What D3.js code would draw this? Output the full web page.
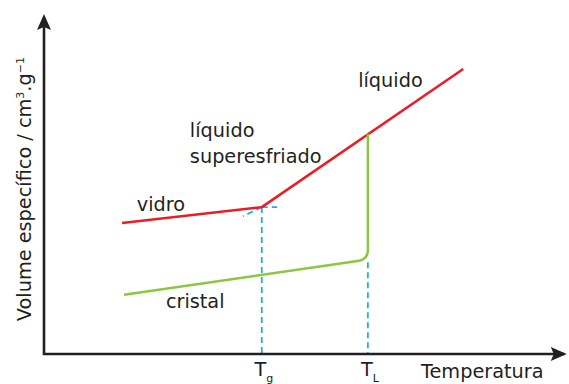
<!DOCTYPE html>
<html>
<head>
<meta charset="utf-8">
<script src="https://cdn.jsdelivr.net/npm/d3@7"></script>
<style>
  html, body { margin: 0; padding: 0; background: #fff; }
  text { font-family: "DejaVu Sans", Verdana, sans-serif; fill: #231f20; }
</style>
</head>
<body>
<svg id="chart" width="569" height="384"></svg>
<script>
// Specific volume vs temperature (arbitrary units)
const Tg = 4.27;
const TL = 6.35;
const glassLine = [{T: 1.53, V: 3.85}, {T: Tg, V: 4.32}];
const liquidLine = [{T: Tg, V: 4.32}, {T: 8.22, V: 8.38}];
const crystalLine = [{T: 1.57, V: 1.74}, {T: TL, V: 2.78}, {T: TL, V: 6.47}];
const extrapolation = [{T: Tg, V: 4.32}, {T: 3.9, V: 4.05}];
const tgLevel = [{T: Tg, V: 4.32}, {T: 4.57, V: 4.32}];
const xTickLabels = [{T: Tg, base: "T", sub: "g"}, {T: TL, base: "T", sub: "L"}];
const phaseLabels = [
  {T: 6.16, V: 7.85, lines: ["líquido"]},
  {T: 2.86, V: 6.38, lines: ["líquido", "superesfriado"]},
  {T: 1.82, V: 4.2, lines: ["vidro"]},
  {T: 2.39, V: 1.35, lines: ["cristal"]}
];

const svg = d3.select("#chart");
const x = d3.scaleLinear().domain([0, 10]).range([44, 554]);
const y = d3.scaleLinear().domain([0, 10]).range([354, 14]);

const ink = "#231f20";
const fs = 19.3;
const line = d3.line().x(d => x(d.T)).y(d => y(d.V));

// guide lines at Tg and TL
function dashed(pts) {
  svg.append("path").attr("d", line(pts)).attr("fill", "none")
    .attr("stroke", "#29abe2").attr("stroke-width", 1.8)
    .attr("stroke-dasharray", "6,4");
}
dashed([{T: Tg, V: 4.32}, {T: Tg, V: 0}]);
dashed([{T: TL, V: 2.7}, {T: TL, V: 0}]);
dashed(tgLevel);
dashed(extrapolation);

// axes with arrowheads
svg.append("path")
  .attr("d", `M${x(0)},${y(9.85)} L${x(0)},${y(0)} L${x(10.2)},${y(0)}`)
  .attr("fill", "none").attr("stroke", ink).attr("stroke-width", 2.6);
svg.append("path")
  .attr("d", `M${x(0)},${y(10)} l-7,16 l7,-3 l7,3 z`)
  .attr("fill", ink);
svg.append("path")
  .attr("d", `M${x(10.25)},${y(0)} l-16,-7 l3,7 l-3,7 z`)
  .attr("fill", ink);

// glass and liquid branches
svg.append("path").attr("d", line(glassLine)).attr("fill", "none")
  .attr("stroke", "#ed1c24").attr("stroke-width", 2.5);
svg.append("path").attr("d", line(liquidLine)).attr("fill", "none")
  .attr("stroke", "#ed1c24").attr("stroke-width", 2.5);

// crystal branch with a rounded corner at TL
const cp = d3.path();
cp.moveTo(x(crystalLine[0].T), y(crystalLine[0].V));
cp.arcTo(x(crystalLine[1].T), y(crystalLine[1].V), x(crystalLine[2].T), y(crystalLine[2].V), 10);
cp.lineTo(x(crystalLine[2].T), y(crystalLine[2].V));
svg.append("path").attr("d", cp.toString()).attr("fill", "none")
  .attr("stroke", "#8dc63f").attr("stroke-width", 2.5);

// phase labels
phaseLabels.forEach(p => {
  const t = svg.append("text").attr("x", x(p.T)).attr("y", y(p.V))
    .attr("font-size", fs);
  p.lines.forEach((s, i) => {
    t.append("tspan").attr("x", x(p.T)).attr("dy", i === 0 ? 0 : 26).text(s);
  });
});

// x tick labels
xTickLabels.forEach(d => {
  const t = svg.append("text").attr("x", x(d.T) + 2).attr("y", 376)
    .attr("text-anchor", "middle").attr("font-size", fs);
  t.append("tspan").text(d.base);
  t.append("tspan").attr("font-size", 11).attr("dy", 6).text(d.sub);
});

// axis titles
svg.append("text").attr("x", 421).attr("y", 378).attr("font-size", fs)
  .text("Temperatura");

const yl = svg.append("text")
  .attr("transform", `translate(31,${y(4.85)}) rotate(-90)`)
  .attr("text-anchor", "middle").attr("font-size", fs);
yl.append("tspan").text("Volume específico / cm");
yl.append("tspan").attr("font-size", 11).attr("dy", -7).text("3");
yl.append("tspan").attr("dy", 7).text(".g");
yl.append("tspan").attr("font-size", 11).attr("dy", -7).text("−1");
</script>
</body>
</html>
